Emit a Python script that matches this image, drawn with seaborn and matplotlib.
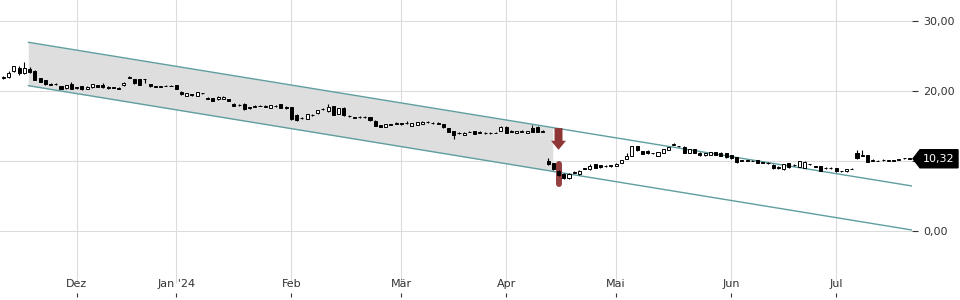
import numpy as np
import pandas as pd
import matplotlib
matplotlib.use("Agg")
import matplotlib.pyplot as plt
import seaborn as sns
from matplotlib.patches import Polygon
from matplotlib import transforms

# ---------------- data (daily OHLC, trading days) ----------------
opens = [21.8, 22.0, 22.8, 23.3, 22.5, 23.2, 22.9, 21.8, 21.5, 21.0,
         20.95, 20.7, 20.4, 21.0, 20.5, 20.7, 20.3, 20.5, 20.8, 20.9,
         20.6, 20.55, 20.4, 20.8, 21.9, 21.7, 21.7, 21.7, 21.0, 20.65,
         20.6, 20.7, 20.7, 20.8, 19.9, 19.3, 19.5, 19.35, 19.7, 19.05,
         19.0, 18.8, 18.9, 18.8, 18.2, 18.05, 18.2, 17.6, 17.75, 17.85,
         17.75, 17.6, 17.9, 18.1, 17.75, 17.7, 16.6, 16.1, 16.0, 16.6,
         16.8, 17.4, 17.1, 17.8, 16.7, 17.6, 16.4, 16.2, 16.25, 16.25,
         16.3, 15.75, 15.1, 14.9, 15.25, 15.3, 15.35, 15.4, 15.0, 15.2,
         15.3, 15.5, 15.45, 15.3, 15.3, 14.7, 14.3, 13.95, 13.7, 14.2,
         14.3, 14.05, 13.95, 13.95, 14.05, 14.3, 14.9, 14.2, 14.0, 14.2,
         14.0, 14.7, 14.9, 14.2, 9.95, 9.7, 8.6, 8.2, 7.5, 8.3,
         8.1, 9.0, 8.8, 9.5, 9.4, 9.25, 9.3, 9.35, 9.7, 10.3,
         10.7, 12.1, 11.4, 11.4, 11.15, 10.7, 11.2, 11.6, 12.3, 12.15,
         12.0, 11.2, 11.7, 11.2, 10.8, 10.9, 11.3, 11.2, 11.1, 10.85,
         10.5, 10.15, 10.1, 10.0, 10.1, 9.8, 9.65, 9.45, 9.2, 8.8,
         9.65, 9.4, 9.2, 9.0, 9.55, 9.25, 9.3, 8.95, 8.95, 8.95,
         8.55, 8.5, 8.9, 11.2, 10.8, 10.85, 10.05, 10.0, 10.1, 10.05,
         10.1, 10.15, 10.38, 10.4]
highs = [22.1, 22.8, 23.6, 23.5, 24.2, 23.4, 23.0, 21.9, 21.6, 21.1,
         21.2, 20.75, 20.85, 21.25, 20.6, 20.75, 20.65, 21.05, 20.85, 21.2,
         20.65, 20.6, 20.55, 21.3, 22.2, 21.75, 21.75, 21.75, 21.05, 20.7,
         20.7, 20.85, 20.85, 20.85, 19.95, 19.75, 19.55, 19.85, 19.75, 19.1,
         19.05, 19.25, 19.25, 18.9, 18.25, 18.1, 18.25, 17.75, 17.95, 18.05,
         17.95, 18.05, 17.95, 18.15, 17.8, 17.75, 16.65, 16.35, 16.75, 16.65,
         17.35, 17.6, 18.2, 17.85, 17.55, 17.65, 16.6, 16.25, 16.45, 16.45,
         16.35, 15.8, 15.15, 15.35, 15.3, 15.5, 15.4, 15.65, 15.45, 15.55,
         15.75, 15.7, 15.5, 15.5, 15.35, 14.75, 14.35, 14.2, 14.1, 14.25,
         14.35, 14.3, 14.15, 14.15, 14.15, 14.95, 14.95, 14.4, 14.35, 14.4,
         14.35, 15.1, 14.95, 14.4, 10.4, 9.75, 8.65, 8.25, 8.25, 8.5,
         8.65, 9.05, 9.5, 9.6, 9.45, 9.4, 9.45, 9.65, 10.15, 11.2,
         12.15, 12.15, 11.45, 11.5, 11.2, 11.35, 11.75, 12.05, 12.5, 12.2,
         12.1, 11.75, 11.75, 11.25, 11.15, 11.35, 11.35, 11.25, 11.15, 10.9,
         10.55, 10.2, 10.15, 10.2, 10.15, 9.85, 9.85, 9.5, 9.25, 9.55,
         9.7, 9.6, 10.05, 9.95, 9.6, 9.3, 9.35, 9.15, 9.15, 9.0,
         8.6, 8.85, 8.95, 11.6, 11.55, 10.9, 10.3, 10.1, 10.3, 10.1,
         10.15, 10.35, 10.42, 10.45]
lows = [21.7, 21.9, 22.7, 22.3, 22.4, 22.6, 21.5, 21.3, 20.9, 20.8,
        20.9, 20.25, 20.35, 20.25, 20.3, 20.2, 20.25, 20.45, 20.5, 20.45,
        20.35, 20.4, 20.3, 20.75, 21.85, 21.05, 20.85, 21.2, 20.6, 20.5,
        20.5, 20.65, 20.65, 20.25, 19.45, 19.25, 19.35, 19.3, 19.55, 18.8,
        18.55, 18.75, 18.85, 18.55, 17.85, 17.9, 17.35, 17.45, 17.7, 17.8,
        17.7, 17.55, 17.75, 17.55, 17.45, 15.9, 15.75, 16.05, 15.95, 16.45,
        16.75, 17.35, 17.05, 16.55, 16.65, 16.45, 16.35, 16.15, 16.2, 16.2,
        15.75, 14.95, 14.8, 14.85, 15.1, 15.25, 15.2, 15.35, 14.95, 15.15,
        15.25, 15.45, 15.3, 15.25, 14.75, 14.15, 13.2, 13.9, 13.65, 14.1,
        13.85, 14.0, 13.9, 13.9, 13.95, 14.25, 14.0, 14.15, 13.95, 14.15,
        13.95, 14.15, 14.15, 14.15, 9.4, 8.75, 7.8, 7.45, 7.45, 8.25,
        8.05, 8.8, 8.75, 8.95, 9.05, 9.1, 9.15, 9.3, 9.65, 10.25,
        10.65, 11.45, 10.95, 11.05, 11.0, 10.65, 11.15, 11.55, 12.25, 12.0,
        11.15, 11.15, 11.15, 10.75, 10.75, 10.85, 10.85, 10.65, 10.45, 10.35,
        9.75, 10.0, 9.95, 9.95, 9.65, 9.7, 9.6, 8.9, 8.9, 8.75,
        9.05, 9.35, 9.15, 8.95, 9.4, 9.1, 8.55, 8.9, 8.9, 8.45,
        8.4, 8.45, 8.8, 10.35, 10.75, 9.85, 10.0, 9.95, 10.05, 10.0,
        9.95, 10.1, 10.35, 10.25]
closes = [22.0, 22.6, 23.5, 22.5, 23.3, 22.7, 21.6, 21.3, 21.0, 20.9,
          21.0, 20.3, 20.8, 20.3, 20.45, 20.3, 20.6, 21.0, 20.6, 20.5,
          20.4, 20.45, 20.35, 21.2, 21.95, 21.1, 20.9, 21.65, 20.7, 20.6,
          20.6, 20.7, 20.75, 20.3, 19.5, 19.7, 19.45, 19.8, 19.65, 18.85,
          18.6, 19.2, 19.2, 18.6, 17.9, 18.0, 17.4, 17.6, 17.75, 17.85,
          17.75, 18.0, 17.85, 17.6, 17.5, 15.95, 15.8, 16.1, 16.7, 16.55,
          17.3, 17.4, 17.7, 16.6, 17.5, 16.5, 16.4, 16.2, 16.25, 16.25,
          15.8, 15.0, 14.85, 15.3, 15.2, 15.3, 15.3, 15.4, 15.4, 15.5,
          15.6, 15.5, 15.4, 15.3, 14.8, 14.2, 13.7, 13.95, 14.05, 14.15,
          13.9, 14.05, 13.95, 13.95, 14.0, 14.9, 14.05, 14.2, 14.3, 14.2,
          14.3, 14.2, 14.2, 14.2, 9.6, 8.8, 8.0, 7.5, 8.2, 8.3,
          8.6, 8.85, 9.3, 9.0, 9.1, 9.25, 9.3, 9.6, 10.1, 10.7,
          12.1, 11.5, 11.0, 11.1, 11.1, 11.3, 11.7, 12.0, 12.3, 12.1,
          11.2, 11.7, 11.2, 10.8, 11.1, 11.3, 10.9, 10.7, 10.5, 10.4,
          9.8, 10.05, 10.0, 10.0, 9.7, 9.75, 9.65, 8.95, 8.95, 9.5,
          9.1, 9.4, 10.0, 9.9, 9.5, 9.2, 8.6, 8.95, 8.95, 8.5,
          8.5, 8.8, 8.85, 10.4, 10.75, 9.9, 10.05, 10.05, 10.1, 10.05,
          10.05, 10.3, 10.38, 10.32]

holidays = ["2023-12-25", "2023-12-26", "2024-01-01",
            "2024-03-29", "2024-04-01", "2024-05-01"]
first_day, last_day = "2023-11-13", "2024-07-19"
month_names = {12: "Dez", 1: "Jan '24", 2: "Feb", 3: "Mär",
               4: "Apr", 5: "Mai", 6: "Jun", 7: "Jul"}

# trend channel (trading-day position, price)
channel_days = [4.75, 173.5]
channel_upper = [26.96, 6.43]
channel_lower = [20.76, 0.14]
shade_end_day = 104.9

# breakout signal
signal_day = 106
arrow_top, arrow_tip = 14.7, 11.6
signal_bar = [6.33, 10.04]

last_price = 10.32
y_ticks = [0, 10, 20, 30]
y_tick_labels = ["0,00", "", "20,00", "30,00"]   # 10,00 is hidden under the price tag

# ---------------- figure ----------------
sns.set_style("white")
plt.rcParams["font.family"] = ["DejaVu Sans"]

dates = pd.bdate_range(first_day, last_day, freq="C", holidays=holidays)
n = len(dates)
x = np.arange(n)
o = np.array(opens); h = np.array(highs); l = np.array(lows); c = np.array(closes)

df = pd.DataFrame({"date": dates, "x": x})
month_first = df.groupby([df.date.dt.year, df.date.dt.month]).x.min().values[1:]
month_labels = [month_names[dates[i].month] for i in month_first]

fig = plt.figure(figsize=(9.6, 3.0), dpi=100)
ax = fig.add_axes([0, 0.01, 0.95, 0.99])
ax.set_xlim(-0.65, 173.5)
ax.set_ylim(-9.43, 33.0)
for s in ax.spines.values():
    s.set_visible(False)

grid_c = "#dcdcdc"
for v in y_ticks:
    ax.axhline(v, color=grid_c, lw=0.8, zorder=0)
for m in month_first:
    ax.axvline(m, ymin=0.047, ymax=1, color=grid_c, lw=0.8, zorder=0)

# channel shading + lines
xs = np.array([channel_days[0], shade_end_day])
ax.fill_between(xs, np.interp(xs, channel_days, channel_lower),
                np.interp(xs, channel_days, channel_upper),
                color="#dedede", lw=0, zorder=1)
line_c = "#5f9ea0"
sns.lineplot(x=channel_days, y=channel_upper, color=line_c, lw=1.0, ax=ax, zorder=2)
sns.lineplot(x=channel_days, y=channel_lower, color=line_c, lw=1.0, ax=ax, zorder=2)

# signal bar & arrow
red = "#8e3535"
cap = 0.43
ax.plot([signal_day, signal_day], [signal_bar[0] + cap, signal_bar[1] - cap],
        color=red, lw=4.3, solid_capstyle="round", alpha=0.95, zorder=2.5)
sw, hw, hl = 0.76, 1.43, 1.29
d = signal_day
arrow = Polygon([(d - sw, arrow_top), (d + sw, arrow_top), (d + sw, arrow_tip + hl),
                 (d + hw, arrow_tip + hl), (d, arrow_tip), (d - hw, arrow_tip + hl),
                 (d - sw, arrow_tip + hl)], closed=True, color=red, lw=0, zorder=5)
ax.add_patch(arrow)

# candles
up = c >= o
ax.vlines(x, l, h, color="black", lw=0.8, zorder=3)
bottoms = np.minimum(o, c)
heights = np.maximum(np.abs(c - o), 0.06)
ax.bar(x, heights, bottom=bottoms, width=0.58,
       color=np.where(up, "white", "black"), edgecolor="black", lw=0.7, zorder=4)

# axes ticks
ax.yaxis.tick_right()
ax.set_yticks(y_ticks)
ax.set_yticklabels(y_tick_labels)
ax.tick_params(axis="y", length=4, width=0.8, color="#333333", pad=4,
               labelsize=8, labelcolor="#333333", right=True, left=False)
ax.set_xticks(month_first)
ax.set_xticklabels(month_labels)
ax.tick_params(axis="x", direction="in", length=3, width=0.8, color="#333333",
               pad=-13, labelsize=8, labelcolor="#333333", bottom=True)

# last price tag
tr = transforms.blended_transform_factory(fig.transFigure, ax.transData)
th = 1.29
tag = Polygon([(913 / 960, last_price), (920 / 960, last_price + th),
               (958 / 960, last_price + th), (958 / 960, last_price - th),
               (920 / 960, last_price - th)], closed=True, color="black",
              transform=tr, clip_on=False, zorder=10)
ax.add_patch(tag)
ax.text(939 / 960, last_price, f"{last_price:.2f}".replace(".", ","),
        transform=tr, color="white", fontsize=8, ha="center", va="center",
        zorder=11, clip_on=False)

fig.savefig("out.png", dpi=100)
